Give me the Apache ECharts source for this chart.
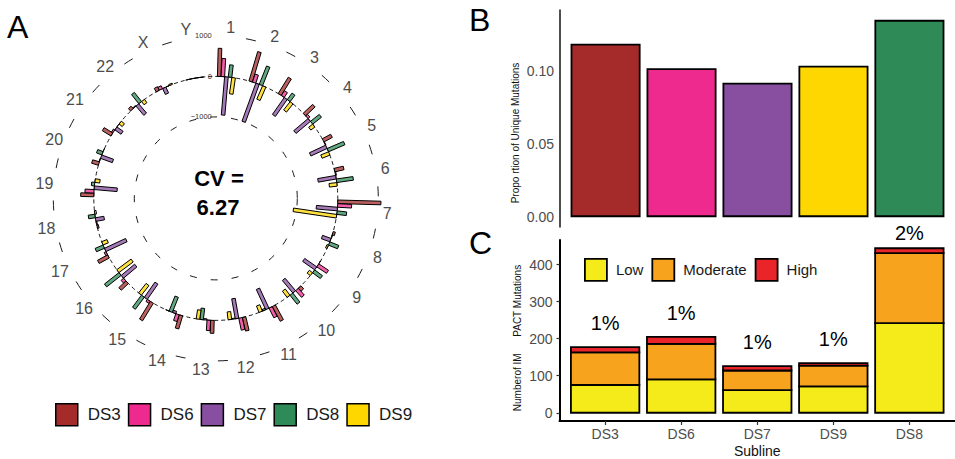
<!DOCTYPE html>
<html>
<head>
<meta charset="utf-8">
<script src="https://cdn.jsdelivr.net/npm/echarts@6/dist/echarts.min.js"></script>
<style>
  html, body { margin: 0; padding: 0; background: #fff; }
  #chart { width: 955px; height: 459px; }
</style>
</head>
<body>
<div id="chart"></div>
<script>
// ---- Panel A: per-chromosome counts for each subline (circular plot) ----
const chromosomes = ['1','2','3','4','5','6','7','8','9','10','11','12','13','14','15','16','17','18','19','20','21','22','X','Y'];
const ds3 = [694, 758, 474, 321, 235, 232, 1066, 55, 0, 99, 415, 345, 320, 340, 510, 242, 284, -40, 324, 173, 251, 80, 100, 0];
const ds6 = [447, 207, 141, 60, 10, 20, 346, 10, 289, 222, 267, 301, 257, 175, 60, 80, 50, -20, 222, 10, 40, 20, 80, 0];
const ds7 = [-948, -1000, -511, -463, -441, -450, -521, -223, -363, -402, -550, -501, -30, -60, -458, -432, -575, -213, -568, -309, -187, -298, -160, 0];
const ds8 = [304, 489, 198, 277, 440, 415, 237, 239, 240, 282, -40, -20, -281, -400, 370, 456, 213, 165, 77, 141, 0, 288, 0, 0];
const ds9 = [-407, -360, -259, -123, -207, -193, -1077, -40, -99, -193, -172, -195, -227, 0, -299, -439, -140, -40, -120, 0, -100, -100, 30, 0];
const ringSeriesNames = ['DS3', 'DS6', 'DS7', 'DS8', 'DS9'];
const ringTicks = [-1000, 0, 1000];
const cvValue = '6.27';

// ---- Panel B: proportion of unique mutations ----
const sublines = ['DS3', 'DS6', 'DS7', 'DS9', 'DS8'];
const uniqueProportion = [0.1183, 0.1016, 0.0917, 0.1033, 0.1346];
const proportionTicks = [0, 0.05, 0.10];

// ---- Panel C: IMPACT mutations by impact class ----
const impactClasses = ['Low', 'Moderate', 'High'];
const impactLow = [75, 90, 61, 71, 242];
const impactModerate = [88, 96, 53, 56, 189];
const impactHigh = [14, 19, 12, 7, 13];
const impactPct = ['1%', '1%', '1%', '1%', '2%'];
const countTicks = [0, 100, 200, 300, 400];

// ---- styling ----
const FONT = '"Liberation Sans", Arial, Helvetica, sans-serif';
const sublineColor = {
  DS3: '#A52A2A', DS6: '#EE2A8E', DS7: '#884EA0', DS8: '#2E8B57', DS9: '#FFD700'
};
const impactColor = { Low: '#F5EA1A', Moderate: '#F8A31E', High: '#E9252A' };
const GREY = '#4D4D4D';

// circular layout (degrees clockwise from 12 o'clock)
const SECTOR = 15;        // one chromosome
const FIRST_CENTER = 5;   // centre of chromosome 1
const SLOT = 1.7;         // angular spacing of dodged bars
const HALF_W = 1.8;       // half bar thickness in px
const LABEL_PAD = 9.5;    // chromosome labels beyond the +1000 ring
const BAR_ALPHA = 0.75;
const BAR_BAND = 0.9;     // bar width in category units (panels B/C)

function rgba(hex, a) {
  const n = parseInt(hex.slice(1), 16);
  return 'rgba(' + ((n >> 16) & 255) + ',' + ((n >> 8) & 255) + ',' + (n & 255) + ',' + a + ')';
}
function groupAngle(i) { return i * SECTOR + FIRST_CENTER; }
function unitRadial(angDeg) {
  const a = angDeg * Math.PI / 180;
  return [Math.sin(a), -Math.cos(a)];
}

// radial bars drawn as straight rectangles from the 0 ring
function radialBar(slot) {
  return function (params, api) {
    const v = api.value(0);
    const ang = groupAngle(api.value(1)) + (slot - 2) * SLOT;
    const p0 = api.coord([0, ang]);
    const p1 = api.coord([v, ang]);
    const a = ang * Math.PI / 180;
    const nx = Math.cos(a) * HALF_W, ny = Math.sin(a) * HALF_W;
    return {
      type: 'polygon',
      shape: {
        points: [
          [p0[0] - nx, p0[1] - ny], [p1[0] - nx, p1[1] - ny],
          [p1[0] + nx, p1[1] + ny], [p0[0] + nx, p0[1] + ny]
        ]
      },
      style: { fill: rgba(api.visual('color'), BAR_ALPHA), stroke: '#000', lineWidth: 1 }
    };
  };
}

// reference rings (-1000, 0, +1000) with their value labels
function ringItem(params, api) {
  const v = api.value(0);
  const cs = params.coordSys;
  const top = api.coord([v, 0]);
  const r = Math.hypot(top[0] - cs.cx, top[1] - cs.cy);
  const children = [];
  if (v === 1000) {
    // short tangential dashes between chromosome sectors
    const half = 5 / r;
    for (let i = 0; i < chromosomes.length - 1; i++) {
      const b = ((groupAngle(i) + SECTOR / 2) - 90) * Math.PI / 180;
      children.push({
        type: 'arc',
        shape: { cx: cs.cx, cy: cs.cy, r: r, startAngle: b - half, endAngle: b + half, clockwise: true },
        style: { stroke: '#000', lineWidth: 0.9, fill: 'none' }
      });
    }
  } else {
    children.push({
      type: 'circle',
      shape: { cx: cs.cx, cy: cs.cy, r: r },
      style: { fill: 'none', stroke: '#000', lineWidth: 0.9, lineDash: v === 0 ? [4, 3] : [7, 14] }
    });
  }
  const txt = v < 0 ? '\u2212' + Math.abs(v) : String(v);
  children.push({
    type: 'text',
    style: {
      text: txt, x: top[0] - 4, y: top[1], fill: '#333',
      font: '7.5px ' + FONT, align: 'right', verticalAlign: 'middle',
      textAlign: 'right', textVerticalAlign: 'middle'
    }
  });
  return { type: 'group', children: children };
}

// chromosome names just outside the +1000 ring
function chromLabel(params, api) {
  const i = api.value(1);
  const ang = groupAngle(i);
  const p = api.coord([1000, ang]);
  const u = unitRadial(ang);
  return {
    type: 'text',
    style: {
      text: chromosomes[i], x: p[0] + u[0] * LABEL_PAD, y: p[1] + u[1] * LABEL_PAD,
      fill: GREY, font: '16px ' + FONT, align: 'center', verticalAlign: 'middle',
      textAlign: 'center', textVerticalAlign: 'middle'
    }
  };
}

// stacked rectangles for panel C: value [x, height, base]
function stackedRect(withLabel) {
  return function (params, api) {
    const x = api.value(0), v = api.value(1), base = api.value(2);
    const lo = api.coord([x, base]);
    const hi = api.coord([x, base + v]);
    const w = api.size([BAR_BAND, 0])[0];
    const rect = {
      type: 'rect',
      shape: { x: lo[0] - w / 2, y: hi[1], width: w, height: lo[1] - hi[1] },
      style: { fill: api.visual('color'), stroke: '#000', lineWidth: 1.8 }
    };
    if (!withLabel) return rect;
    const i = params.dataIndex;
    const gap = base + v === countMax ? 15 : 24;
    return {
      type: 'group',
      children: [rect, {
        type: 'text',
        style: {
          text: impactPct[i], x: lo[0], y: hi[1] - gap, fill: '#000',
          font: '20px ' + FONT, align: 'center', verticalAlign: 'middle',
          textAlign: 'center', textVerticalAlign: 'middle'
        }
      }]
    };
  };
}

const ringData = [ds3, ds6, ds7, ds8, ds9];

const propMax = Math.max.apply(null, uniqueProportion);
const impactArrays = [impactLow, impactModerate, impactHigh];
const totals = impactLow.map((v, i) => v + impactModerate[i] + impactHigh[i]);
const countMax = Math.max.apply(null, totals);

const series = [];
series.push({
  type: 'custom', name: 'rings', coordinateSystem: 'polar', polarIndex: 0,
  encode: { radius: 0, angle: 1 }, silent: true, z: 1,
  data: ringTicks.map(v => [v, 0]),
  renderItem: ringItem
});
series.push({
  type: 'custom', name: 'chromosomes', coordinateSystem: 'polar', polarIndex: 0,
  encode: { radius: 0, angle: 1 }, silent: true, z: 1,
  data: chromosomes.map((c, i) => [0, i]),
  renderItem: chromLabel
});
ringSeriesNames.forEach((name, s) => {
  series.push({
    type: 'custom', name: name, coordinateSystem: 'polar', polarIndex: 0,
    encode: { radius: 0, angle: 1 }, z: 2 + s,
    itemStyle: { color: sublineColor[name] },
    data: ringData[s].map((v, i) => [v, i]),
    renderItem: radialBar(s)
  });
});

// Panel B bars
series.push({
  type: 'bar', name: 'proportion', xAxisIndex: 0, yAxisIndex: 0, barWidth: 70,
  data: uniqueProportion.map((v, i) => ({
    value: [i + 1, v],
    itemStyle: { color: sublineColor[sublines[i]] }
  })),
  itemStyle: { borderColor: '#000', borderWidth: 1.8 }
});

// Panel C stacked bars (each class sits on the running total of the classes below)
impactClasses.forEach((name, k) => {
  const arr = impactArrays[k];
  series.push({
    type: 'custom', name: name, coordinateSystem: 'cartesian2d', xAxisIndex: 1, yAxisIndex: 1,
    encode: { x: 0, y: 1 }, z: 2,
    itemStyle: { color: impactColor[name] },
    data: arr.map((v, i) => {
      let base = 0;
      for (let j = 0; j < k; j++) base += impactArrays[j][i];
      return [i + 1, v, base];
    }),
    renderItem: stackedRect(k === impactClasses.length - 1)
  });
});

const option = {
  animation: false,
  backgroundColor: '#fff',
  textStyle: { fontFamily: FONT },
  polar: [{ center: [215.8, 198.4], radius: 162.5 }],
  angleAxis: [{
    polarIndex: 0, type: 'value', min: 0, max: 360, startAngle: 90, clockwise: true, show: false
  }],
  radiusAxis: [{ polarIndex: 0, type: 'value', min: -3012, max: 1000, show: false }],
  grid: [
    { left: 560, top: 10, width: 404.6, height: 217 },
    { left: 559.5, top: 240, width: 404.6, height: 184.5 }
  ],
  xAxis: [
    { gridIndex: 0, type: 'value', min: 0.4, max: 5.6, show: false },
    {
      gridIndex: 1, type: 'value', min: 0.4, max: 5.6,
      axisLine: { onZero: false, lineStyle: { color: '#000', width: 2 } },
      axisTick: { customValues: sublines.map((s, i) => i + 1), length: 4, lineStyle: { color: '#333', width: 1.2 } },
      axisLabel: {
        customValues: sublines.map((s, i) => i + 1), margin: 6, color: GREY, fontSize: 14,
        formatter: v => sublines[Math.round(v) - 1] || ''
      },
      splitLine: { show: false },
      name: 'Subline', nameLocation: 'middle', nameGap: 23,
      nameTextStyle: { color: '#111', fontSize: 14 }
    }
  ],
  yAxis: [
    {
      gridIndex: 0, type: 'value', min: -propMax * 0.05, max: propMax * 1.05,
      axisLine: { show: true, onZero: false, lineStyle: { color: '#222', width: 1.6 } },
      axisTick: { show: false },
      axisLabel: { customValues: proportionTicks, margin: 6, color: GREY, fontSize: 14, formatter: v => v.toFixed(2) },
      splitLine: { show: false }
    },
    {
      gridIndex: 1, type: 'value', min: -countMax * 0.05, max: countMax * 1.05,
      axisLine: { show: true, onZero: false, lineStyle: { color: '#000', width: 2 } },
      axisTick: { show: true, customValues: countTicks, length: 3, lineStyle: { color: '#333', width: 1.2 } },
      axisLabel: { customValues: countTicks, margin: 7, color: GREY, fontSize: 14 },
      splitLine: { show: false }
    }
  ],
  legend: [
    {
      data: ringSeriesNames, left: 55, top: 403, orient: 'horizontal', padding: 0,
      icon: 'rect', itemWidth: 22, itemHeight: 22, itemGap: 7, selectedMode: false,
      itemStyle: { borderColor: '#000', borderWidth: 1.5 },
      textStyle: { fontSize: 17, color: '#1a1a1a', padding: [0, 0, 0, 5] }
    },
    {
      data: impactClasses, left: 584, top: 258, orient: 'horizontal', padding: 0,
      icon: 'rect', itemWidth: 22, itemHeight: 22, itemGap: 8, selectedMode: false,
      itemStyle: { borderColor: '#000', borderWidth: 1.8 },
      textStyle: { fontSize: 15, color: '#1a1a1a', padding: [0, 0, 0, 4] }
    }
  ],
  graphic: [
    { type: 'text', x: 7, y: 27, style: { text: 'A', font: '32px ' + FONT, fill: '#000', verticalAlign: 'middle', textVerticalAlign: 'middle' } },
    { type: 'text', x: 469, y: 20, style: { text: 'B', font: '32px ' + FONT, fill: '#000', verticalAlign: 'middle', textVerticalAlign: 'middle' } },
    { type: 'text', x: 469, y: 243, style: { text: 'C', font: '32px ' + FONT, fill: '#000', verticalAlign: 'middle', textVerticalAlign: 'middle' } },
    { type: 'text', x: 219, y: 178, style: { text: 'CV =', font: 'bold 22px ' + FONT, fill: '#000', align: 'center', verticalAlign: 'middle', textAlign: 'center', textVerticalAlign: 'middle' } },
    { type: 'text', x: 218, y: 207, style: { text: cvValue, font: 'bold 22px ' + FONT, fill: '#000', align: 'center', verticalAlign: 'middle', textAlign: 'center', textVerticalAlign: 'middle' } },
    { type: 'text', x: 515, y: 133, rotation: Math.PI / 2, style: { text: 'Propo rtion of Unique Mutations', font: '10px ' + FONT, fill: '#111', align: 'center', verticalAlign: 'middle', textAlign: 'center', textVerticalAlign: 'middle' } },
    { type: 'text', x: 517, y: 338, rotation: Math.PI / 2, style: { text: 'Numberof IM\u00a0\u00a0\u00a0\u00a0\u00a0\u00a0PACT Mutations', font: '10px ' + FONT, fill: '#111', align: 'center', verticalAlign: 'middle', textAlign: 'center', textVerticalAlign: 'middle' } }
  ],
  series: series
};

const chart = echarts.init(document.getElementById('chart'), null, { renderer: 'svg' });
chart.setOption(option);
</script>
</body>
</html>
